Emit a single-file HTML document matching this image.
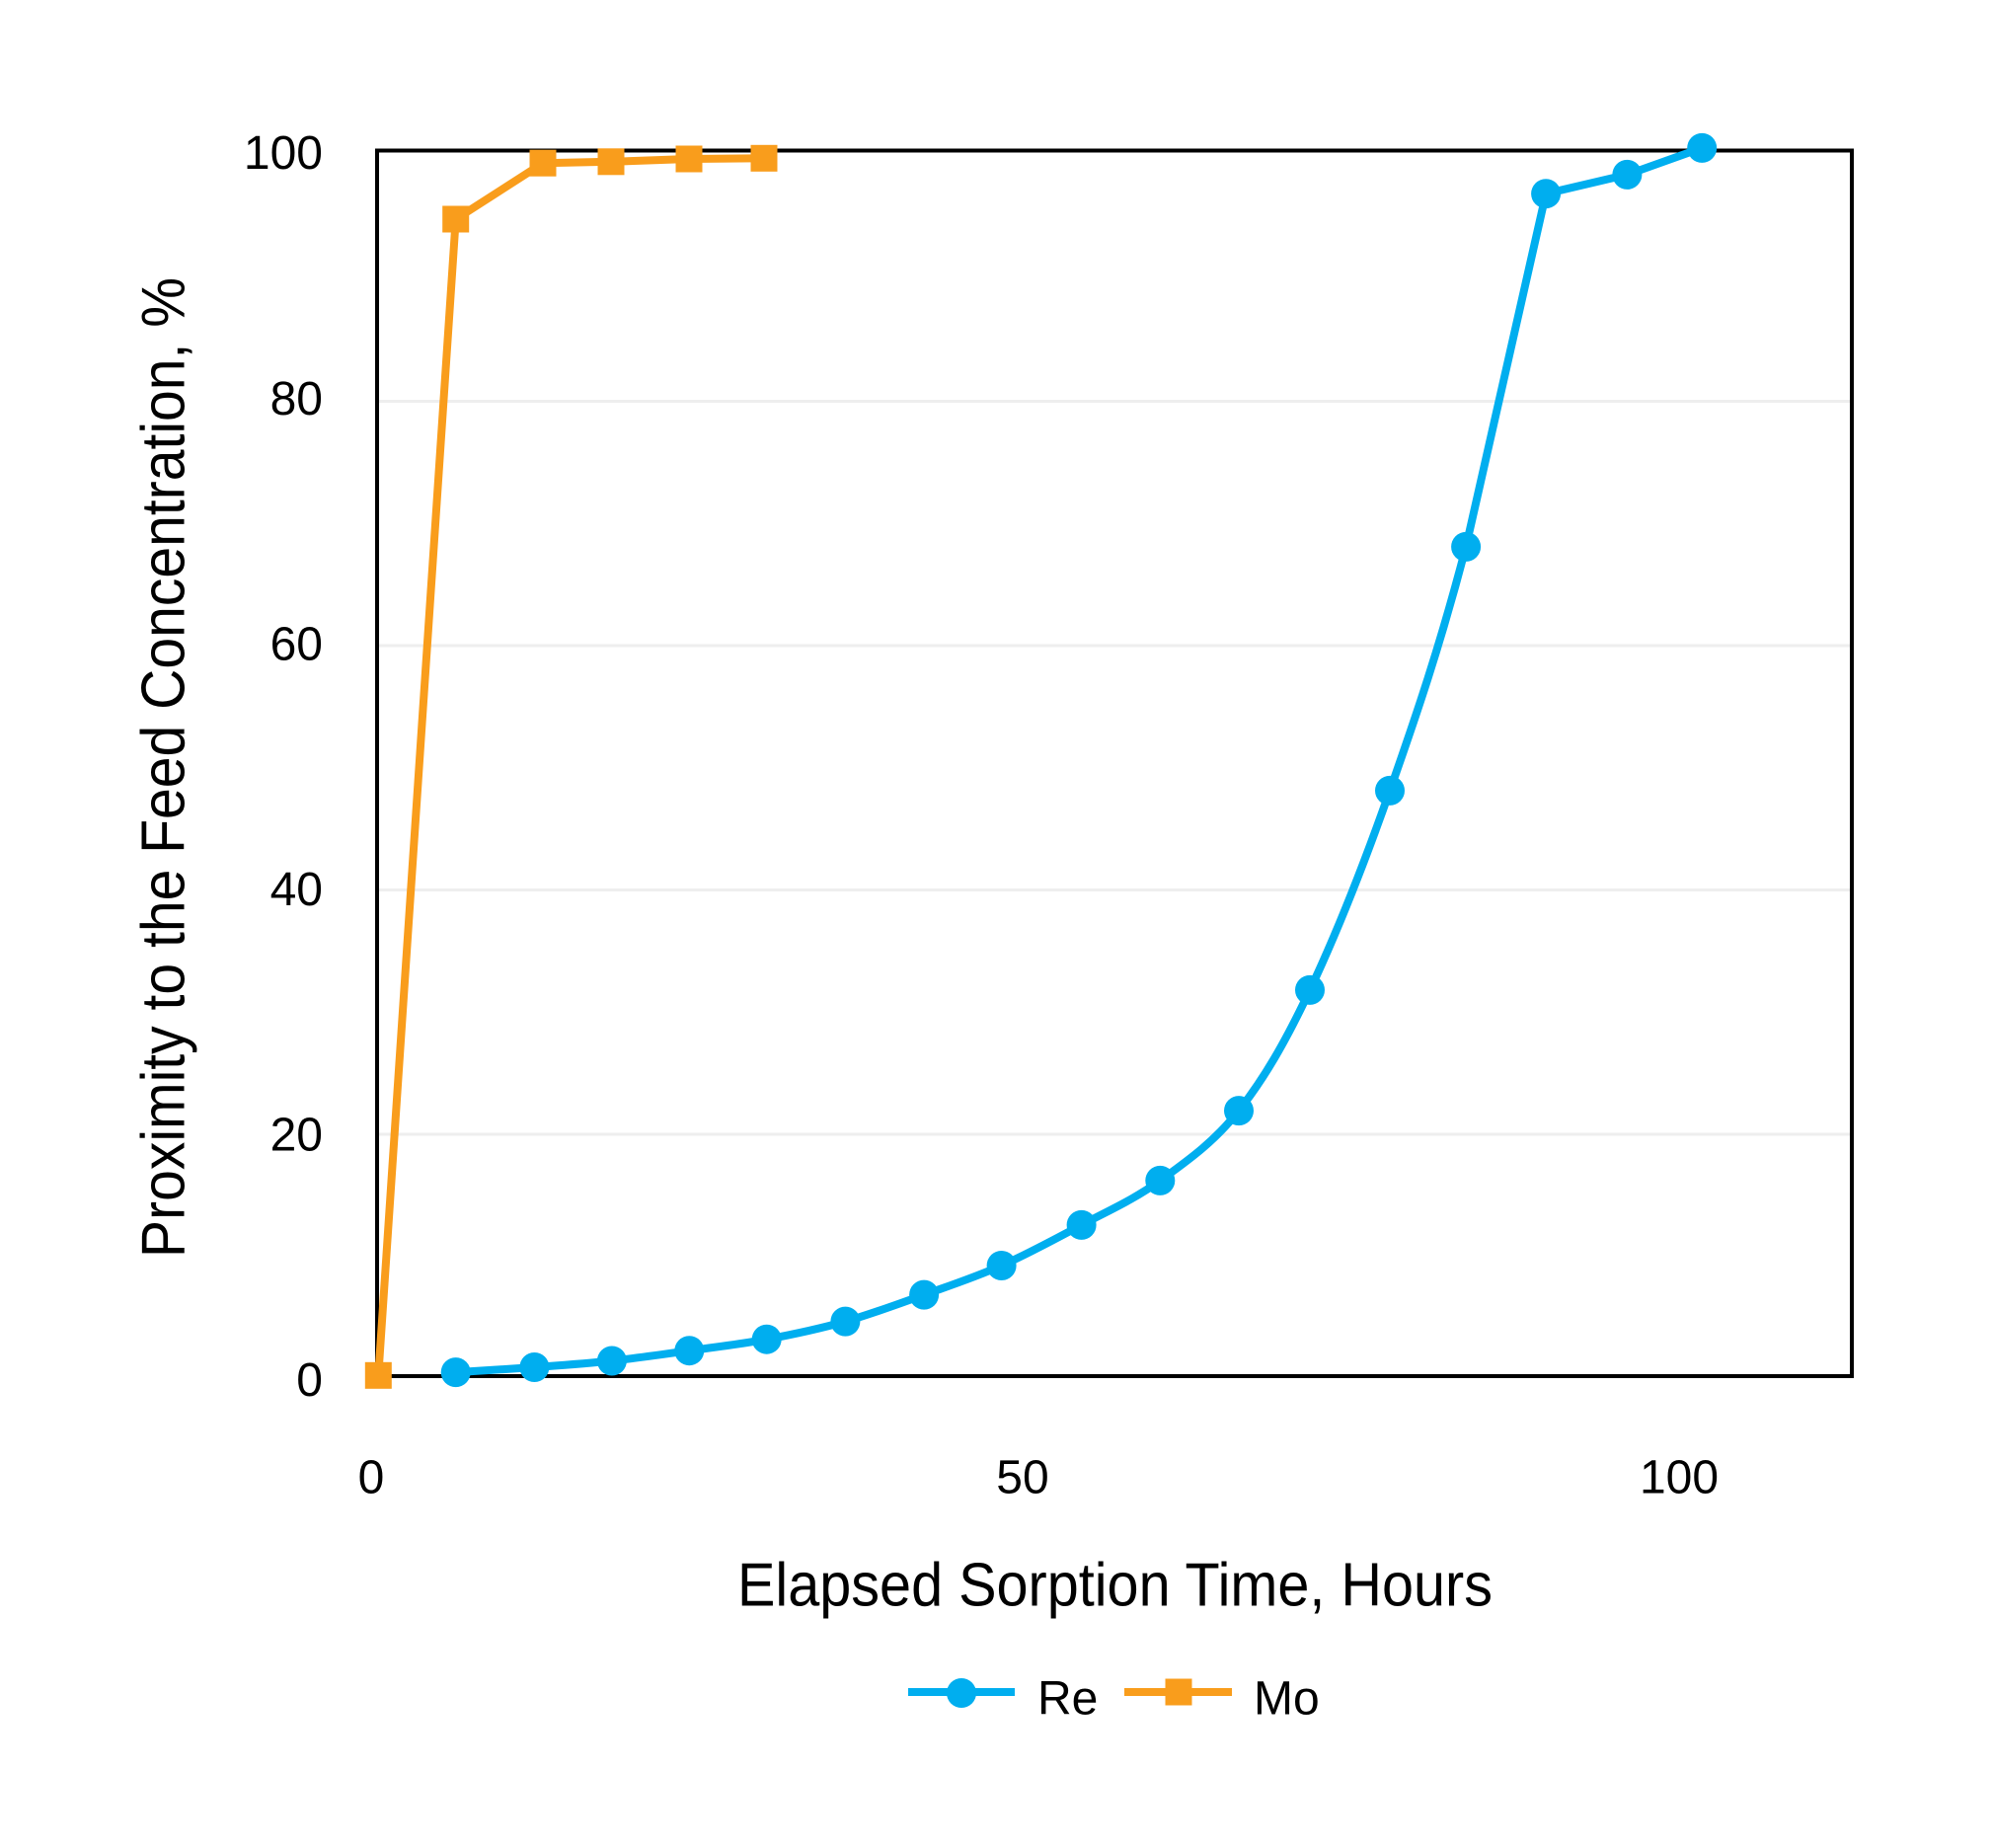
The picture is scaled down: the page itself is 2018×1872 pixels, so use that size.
<!DOCTYPE html>
<html>
<head>
<meta charset="utf-8">
<style>
html,body{margin:0;padding:0;background:#ffffff;}
svg{display:block;}
</style>
</head>
<body>
<svg width="2018" height="1872" viewBox="0 0 2018 1872" xmlns="http://www.w3.org/2000/svg" font-family="'Liberation Sans', Arial, sans-serif">
  <rect x="0" y="0" width="2018" height="1872" fill="#ffffff"/>

  <!-- gridlines -->
  <g stroke="#eeeeee" stroke-width="3">
    <line x1="384" y1="1149" x2="1874" y2="1149"/>
    <line x1="384" y1="901.5" x2="1874" y2="901.5"/>
    <line x1="384" y1="654" x2="1874" y2="654"/>
    <line x1="384" y1="406.5" x2="1874" y2="406.5"/>
  </g>

  <!-- plot frame -->
  <rect x="382" y="152.5" width="1494" height="1241.5" fill="none" stroke="#000" stroke-width="4"/>

  <!-- y tick labels -->
  <g font-size="48" fill="#000" text-anchor="end">
    <text x="327" y="1414">0</text>
    <text x="327" y="1165.5">20</text>
    <text x="327" y="917">40</text>
    <text x="327" y="668.5">60</text>
    <text x="327" y="420">80</text>
    <text x="327" y="171">100</text>
  </g>

  <!-- x tick labels -->
  <g font-size="48" fill="#000" text-anchor="middle">
    <text x="376" y="1512.5">0</text>
    <text x="1036" y="1512.5">50</text>
    <text x="1701" y="1512.5">100</text>
  </g>

  <!-- axis titles -->
  <text x="747" y="1626.5" font-size="62" fill="#000" textLength="765" lengthAdjust="spacingAndGlyphs">Elapsed Sorption Time, Hours</text>
  <text transform="translate(186.5,1274) rotate(-90)" x="0" y="0" font-size="62" fill="#000" textLength="993" lengthAdjust="spacingAndGlyphs">Proximity to the Feed Concentration, %</text>

  <!-- Re series (smoothed) -->
  <path fill="none" stroke="#00aeef" stroke-width="8" stroke-linejoin="round" stroke-linecap="round"
    d="M461.7,1390.1
       C474.98,1389.25 515.03,1386.93 541.4,1385.0
       C567.77,1383.07 593.75,1381.3 619.9,1378.5
       C646.05,1375.7 672.17,1371.83 698.3,1368.2
       C724.43,1364.57 750.35,1361.63 776.7,1356.7
       C803.05,1351.77 829.83,1346.12 856.4,1338.6
       C882.97,1331.08 909.73,1321.03 936.1,1311.6
       C962.47,1302.17 988.02,1293.78 1014.6,1282.0
       C1041.18,1270.22 1068.82,1255.25 1095.6,1240.9
       C1122.38,1226.55 1148.73,1215.2 1175.3,1195.9
       C1201.87,1176.6 1229.72,1157.27 1255.0,1125.1
       C1280.28,1092.93 1301.5,1056.93 1327.0,1002.9
       C1352.5,948.87 1381.65,875.73 1408.0,800.9
       C1434.35,726.07 1458.75,654.68 1485.1,553.9
       L1566.1,196.2 L1648.4,176.9 L1724.2,149.9"/>
  <g fill="#00aeef">
    <circle cx="461.7" cy="1390.1" r="15"/>
    <circle cx="541.4" cy="1385.0" r="15"/>
    <circle cx="619.9" cy="1378.5" r="15"/>
    <circle cx="698.3" cy="1368.2" r="15"/>
    <circle cx="776.7" cy="1356.7" r="15"/>
    <circle cx="856.4" cy="1338.6" r="15"/>
    <circle cx="936.1" cy="1311.6" r="15"/>
    <circle cx="1014.6" cy="1282.0" r="15"/>
    <circle cx="1095.6" cy="1240.9" r="15"/>
    <circle cx="1175.3" cy="1195.9" r="15"/>
    <circle cx="1255.0" cy="1125.1" r="15"/>
    <circle cx="1327.0" cy="1002.9" r="15"/>
    <circle cx="1408.0" cy="800.9" r="15"/>
    <circle cx="1485.1" cy="553.9" r="15"/>
    <circle cx="1566.1" cy="196.2" r="15"/>
    <circle cx="1648.4" cy="176.9" r="15"/>
    <circle cx="1724.2" cy="149.9" r="15"/>
  </g>

  <!-- Mo series -->
  <polyline fill="none" stroke="#f99d1c" stroke-width="8" stroke-linejoin="round"
    points="383.3,1393.3 461.7,222 550,165.2 619,163.8 698,161 774,160.3"/>
  <g fill="#f99d1c">
    <rect x="369.8" y="1379.8" width="27" height="27"/>
    <rect x="448.2" y="208.5" width="27" height="27"/>
    <rect x="536.5" y="151.7" width="27" height="27"/>
    <rect x="605.5" y="150.3" width="27" height="27"/>
    <rect x="684.5" y="147.5" width="27" height="27"/>
    <rect x="760.5" y="146.8" width="27" height="27"/>
  </g>

  <!-- legend -->
  <line x1="920" y1="1714" x2="1028" y2="1714" stroke="#00aeef" stroke-width="8"/>
  <circle cx="974" cy="1715" r="15" fill="#00aeef"/>
  <text x="1051" y="1736.5" font-size="48" fill="#000">Re</text>
  <line x1="1139" y1="1714" x2="1248" y2="1714" stroke="#f99d1c" stroke-width="8"/>
  <rect x="1180.5" y="1700.5" width="27" height="27" fill="#f99d1c"/>
  <text x="1270" y="1736.5" font-size="48" fill="#000">Mo</text>
</svg>
</body>
</html>
